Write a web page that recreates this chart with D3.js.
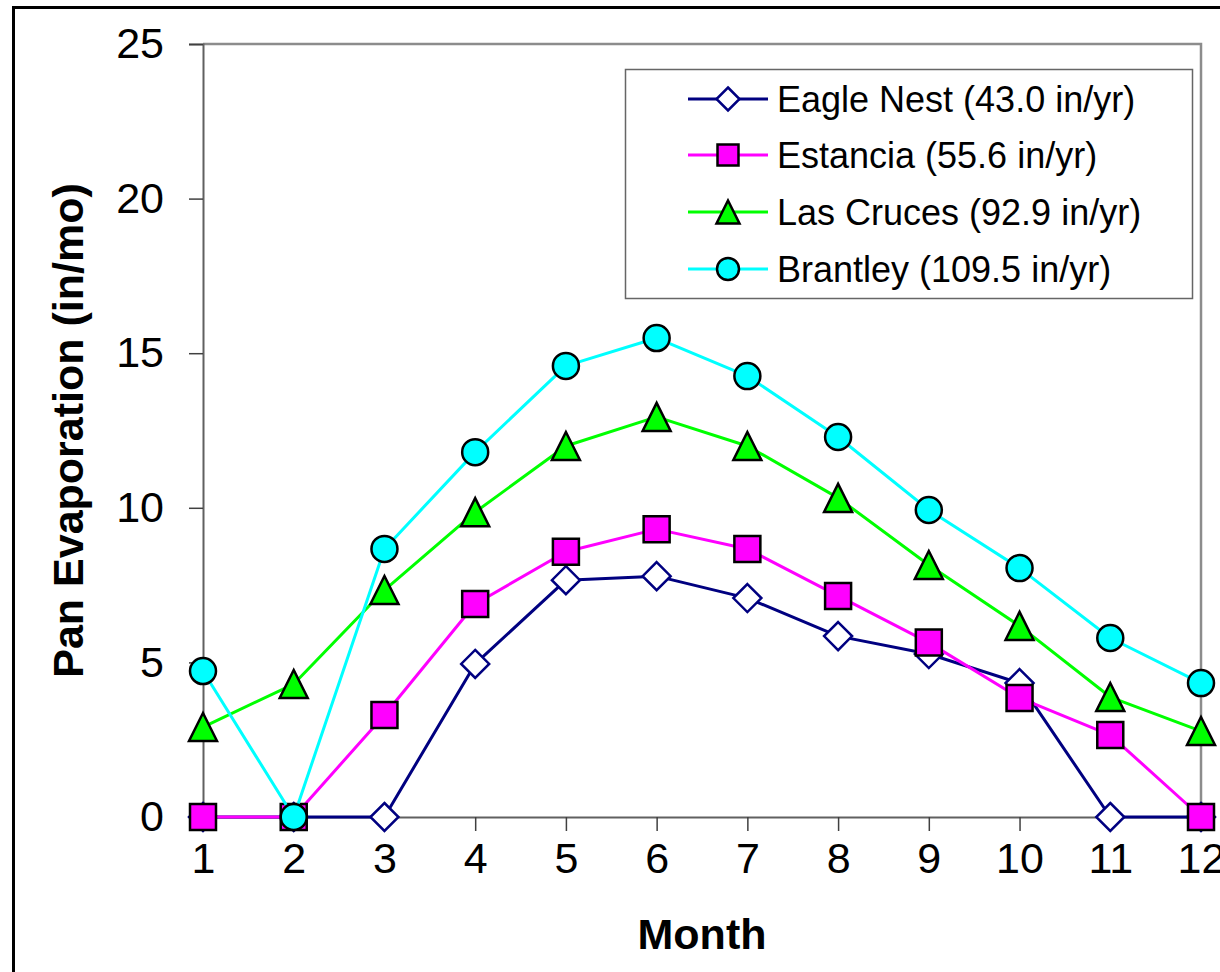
<!DOCTYPE html>
<html>
<head>
<meta charset="utf-8">
<script src="https://cdn.jsdelivr.net/npm/d3@7"></script>
<style>
  html, body { margin: 0; padding: 0; background: #fff; }
  svg { display: block; }
  text { font-family: "Liberation Sans", Arial, sans-serif; fill: #000; }
</style>
</head>
<body>
<svg id="chart" width="1220" height="972"></svg>
<script>
// ---- data ----
const months = [1, 2, 3, 4, 5, 6, 7, 8, 9, 10, 11, 12];
const yTicks = [0, 5, 10, 15, 20, 25];
const seriesNames = [
  "Eagle Nest (43.0 in/yr)",
  "Estancia (55.6 in/yr)",
  "Las Cruces (92.9 in/yr)",
  "Brantley (109.5 in/yr)"
];
const eagleNest = [0, 0, 0, 4.95, 7.66, 7.79, 7.08, 5.85, 5.27, 4.33, 0, 0];
const estancia  = [0, 0, 3.30, 6.89, 8.58, 9.31, 8.67, 7.15, 5.64, 3.85, 2.65, 0];
const lasCruces = [2.91, 4.30, 7.34, 9.86, 12.0, 12.94, 12.0, 10.32, 8.15, 6.18, 3.88, 2.78];
const brantley  = [4.72, 0, 8.67, 11.80, 14.59, 15.49, 14.26, 12.29, 9.93, 8.05, 5.79, 4.33];

const seriesValues = [eagleNest, estancia, lasCruces, brantley];
const lineColors = ["#000080", "#FF00FF", "#00FF00", "#00FFFF"];
const markerFill = ["#FFFFFF", "#FF00FF", "#00FF00", "#00FFFF"];
const markerStroke = ["#000080", "#000000", "#000000", "#000000"];
const markerType = ["diamond", "square", "triangle", "circle"];

// ---- layout ----
const svg = d3.select("#chart");
const pLeft = 203, pRight = 1201, pTop = 44, pBottom = 817;
const x = d3.scaleLinear().domain([1, 12]).range([pLeft, pRight]);
const y = d3.scaleLinear().domain([0, 25]).range([pBottom, pTop]);

// outer chart border
svg.append("rect")
  .attr("x", 13.5).attr("y", 7.5)
  .attr("width", 1300).attr("height", 1100)
  .attr("fill", "#fff").attr("stroke", "#000").attr("stroke-width", 3);

// plot area frame (top and right)
svg.append("path")
  .attr("d", `M${pLeft},${pTop}H${pRight}V${pBottom}`)
  .attr("fill", "none").attr("stroke", "#8c8c8c").attr("stroke-width", 2.5);

// y axis
const yAxis = d3.axisLeft(y).tickValues(yTicks).tickSize(14).tickPadding(25).tickFormat(d3.format("d"));
const gy = svg.append("g").attr("transform", `translate(${pLeft},0)`).call(yAxis);
gy.select(".domain").attr("stroke", "#606060").attr("stroke-width", 2);
gy.selectAll(".tick line").attr("stroke", "#404040").attr("stroke-width", 1.5);
gy.selectAll(".tick text").attr("font-size", 43).attr("font-family", "Liberation Sans, Arial, sans-serif").attr("fill", "#000");

// x axis
const xAxis = d3.axisBottom(x).tickValues(months).tickSize(14).tickPadding(10).tickFormat(d3.format("d"));
const gx = svg.append("g").attr("transform", `translate(0,${pBottom})`).call(xAxis);
gx.select(".domain").attr("stroke", "#606060").attr("stroke-width", 2);
gx.selectAll(".tick line").attr("stroke", "#404040").attr("stroke-width", 1.5);
gx.selectAll(".tick text")
  .attr("font-size", 43).attr("font-family", "Liberation Sans, Arial, sans-serif").attr("fill", "#000")
  .attr("y", 56).attr("dy", 0);

// axis titles
svg.append("text")
  .attr("transform", `translate(83,${(pTop + pBottom) / 2}) rotate(-90)`)
  .attr("text-anchor", "middle")
  .attr("font-size", 43).attr("font-weight", "bold")
  .text("Pan Evaporation (in/mo)");
svg.append("text")
  .attr("x", (pLeft + pRight) / 2).attr("y", 949)
  .attr("text-anchor", "middle")
  .attr("font-size", 43).attr("font-weight", "bold")
  .text("Month");

// markers
function markerPath(type, s) {
  const h = s / 2;
  switch (type) {
    case "diamond": return `M0,${-h}L${h},0L0,${h}L${-h},0Z`;
    case "square": return `M${-h},${-h}H${h}V${h}H${-h}Z`;
    case "triangle": return `M0,${-h}L${h},${h}H${-h}Z`;
    case "circle": return `M${h},0A${h},${h} 0 1,1 ${-h},0A${h},${h} 0 1,1 ${h},0Z`;
  }
}
const markerSize = [28, 26, 28, 26];

const line = d3.line().x((d, i) => x(months[i])).y(d => y(d));
seriesValues.forEach((vals, si) => {
  const g = svg.append("g");
  g.append("path")
    .datum(vals)
    .attr("d", line)
    .attr("fill", "none")
    .attr("stroke", lineColors[si])
    .attr("stroke-width", 3)
    .attr("stroke-linejoin", "round");
  g.selectAll("path.m")
    .data(vals)
    .enter().append("path")
    .attr("class", "m")
    .attr("transform", (d, i) => `translate(${x(months[i])},${y(d)})`)
    .attr("d", markerPath(markerType[si], markerSize[si]))
    .attr("fill", markerFill[si])
    .attr("stroke", markerStroke[si])
    .attr("stroke-width", 2.5);
});

// legend
const lg = svg.append("g");
lg.append("rect")
  .attr("x", 625.5).attr("y", 69.5).attr("width", 567).attr("height", 229)
  .attr("fill", "#fff").attr("stroke", "#666").attr("stroke-width", 1.5);
const rowY = [99, 155, 212, 269];
const legendSize = [23, 21, 23, 22];
seriesNames.forEach((name, si) => {
  const ry = rowY[si];
  lg.append("line")
    .attr("x1", 688).attr("x2", 768).attr("y1", ry).attr("y2", ry)
    .attr("stroke", lineColors[si]).attr("stroke-width", 3);
  lg.append("path")
    .attr("transform", `translate(728,${ry})`)
    .attr("d", markerPath(markerType[si], legendSize[si]))
    .attr("fill", markerFill[si])
    .attr("stroke", markerStroke[si])
    .attr("stroke-width", 2.5);
  lg.append("text")
    .attr("x", 777).attr("y", ry).attr("dy", "0.35em")
    .attr("font-size", 36)
    .text(name);
});
</script>
</body>
</html>
